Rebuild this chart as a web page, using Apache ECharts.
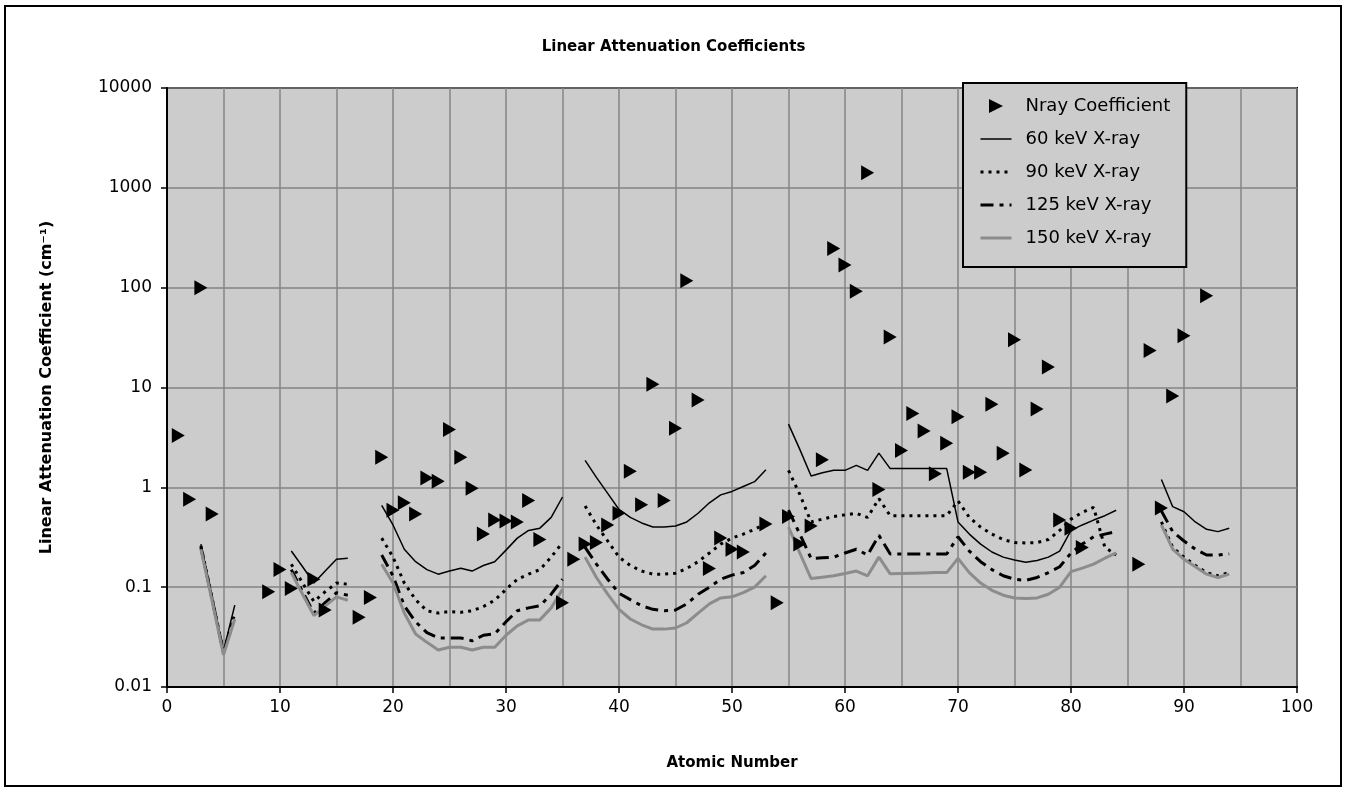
<!DOCTYPE html>
<html>
<head>
<meta charset="utf-8">
<script src="https://cdn.jsdelivr.net/npm/echarts@6/dist/echarts.min.js"></script>
<style>html,body{margin:0;padding:0;background:#fff;}#c{width:1347px;height:791px;}</style>
</head>
<body>
<div id="c"></div>
<script>
// ---- data ----
const yTickLabels = ['0.01', '0.1', '1', '10', '100', '1000', '10000'];
const xTickLabels = ['0', '10', '20', '30', '40', '50', '60', '70', '80', '90', '100'];

const nrayZ = [1,2,3,4,9,10,11,13,14,17,18,19,20,21,22,23,24,25,26,27,28,29,30,31,32,33,35,36,37,38,39,40,41,42,43,44,45,46,47,48,49,50,51,53,54,55,56,57,58,59,60,61,62,63,64,65,66,67,68,69,70,71,72,73,74,75,76,77,78,79,80,81,86,87,88,89,90,92];
const nrayVal = [3.3,0.76,100,0.54,0.09,0.15,0.097,0.12,0.059,0.05,0.079,2.0,0.59,0.70,0.54,1.24,1.15,3.8,2.0,0.98,0.34,0.47,0.46,0.45,0.74,0.30,0.07,0.19,0.27,0.28,0.42,0.55,1.45,0.67,10.8,0.74,3.9,117,7.5,0.154,0.31,0.24,0.225,0.43,0.07,0.51,0.27,0.41,1.89,247,169,92,1420,0.95,32,2.34,5.5,3.66,1.37,2.77,5.1,1.42,1.42,6.8,2.2,30,1.49,6.1,16,0.47,0.39,0.25,0.17,23.5,0.62,8.2,33,83];

// atomic numbers for the X-ray curves; null values break the curve
const lineZ = [3,4,5,6,7, 11,12,13,14,15,16,17,
  19,20,21,22,23,24,25,26,27,28,29,30,31,32,33,34,35,36,
  37,38,39,40,41,42,43,44,45,46,47,48,49,50,51,52,53,54,
  55,56,57,58,59,60,61,62,63,64,65,66,67,68,69,70,71,72,73,74,75,76,77,78,79,80,81,82,83,84,85,
  88,89,90,91,92,93,94];

const kev60 = [0.27,0.08,0.023,0.066,null,
  0.23,0.16,0.11,0.145,0.19,0.195,null,
  0.66,0.42,0.24,0.18,0.15,0.135,0.145,0.155,0.145,0.165,0.18,0.235,0.31,0.37,0.39,0.5,0.8,null,
  1.86,1.26,0.87,0.6,0.5,0.44,0.4,0.4,0.41,0.45,0.55,0.7,0.84,0.91,1.02,1.14,1.5,null,
  4.3,2.4,1.3,1.4,1.48,1.48,1.66,1.48,2.2,1.54,1.54,1.54,1.54,1.54,1.54,0.45,0.34,0.27,0.225,0.2,0.187,0.178,0.185,0.2,0.23,0.37,0.42,0.47,0.52,0.59,null,
  1.2,0.64,0.57,0.45,0.38,0.36,0.39];
const kev90 = [0.26,0.077,0.022,0.055,null,
  0.17,0.11,0.072,0.09,0.11,0.107,null,
  0.31,0.2,0.11,0.075,0.058,0.055,0.057,0.056,0.058,0.064,0.074,0.095,0.12,0.135,0.15,0.2,0.28,null,
  0.65,0.42,0.29,0.2,0.165,0.145,0.135,0.135,0.138,0.154,0.18,0.22,0.27,0.31,0.34,0.38,0.43,null,
  1.48,0.85,0.45,0.48,0.51,0.53,0.55,0.5,0.77,0.52,0.52,0.52,0.52,0.52,0.52,0.73,0.5,0.4,0.34,0.3,0.28,0.277,0.28,0.3,0.37,0.48,0.56,0.63,0.25,0.21,null,
  0.45,0.25,0.2,0.165,0.14,0.13,0.14];
const kev125 = [0.25,0.075,0.022,0.05,null,
  0.15,0.09,0.055,0.07,0.088,0.083,null,
  0.21,0.13,0.065,0.045,0.035,0.031,0.031,0.031,0.029,0.033,0.034,0.045,0.058,0.062,0.065,0.085,0.12,null,
  0.25,0.17,0.12,0.087,0.075,0.065,0.06,0.058,0.059,0.068,0.085,0.1,0.12,0.132,0.14,0.165,0.22,null,
  0.59,0.34,0.194,0.197,0.2,0.22,0.24,0.21,0.33,0.215,0.215,0.215,0.215,0.215,0.215,0.32,0.23,0.18,0.15,0.13,0.12,0.117,0.125,0.14,0.16,0.22,0.27,0.32,0.34,0.36,null,
  0.58,0.36,0.29,0.24,0.21,0.21,0.215];
const kev150 = [0.24,0.072,0.021,0.048,null,
  0.14,0.085,0.052,0.065,0.08,0.074,null,
  0.17,0.11,0.055,0.034,0.028,0.0235,0.025,0.025,0.0235,0.025,0.025,0.033,0.041,0.047,0.047,0.062,0.095,null,
  0.2,0.125,0.085,0.06,0.048,0.042,0.038,0.038,0.039,0.044,0.055,0.068,0.078,0.08,0.088,0.1,0.13,null,
  0.4,0.22,0.122,0.126,0.13,0.137,0.145,0.13,0.2,0.136,0.137,0.138,0.139,0.14,0.14,0.194,0.14,0.11,0.093,0.083,0.078,0.077,0.078,0.085,0.1,0.143,0.155,0.17,0.195,0.22,null,
  0.42,0.24,0.19,0.16,0.135,0.125,0.135];

const seriesNames = ['Nray Coefficient', '60 keV X-ray', '90 keV X-ray', '125 keV X-ray', '150 keV X-ray'];

// ---- chart ----
const FONT = 'DejaVu Sans';
const toPairs = vals => lineZ.map((z, i) => [z, vals[i] == null ? '-' : vals[i]]);
const gridLine = { color: '#858585', width: 1.5 };
const lineStyles = [
  null,
  { color: '#000', width: 1.5, type: 'solid' },
  { color: '#000', width: 3, type: [3, 5] },
  { color: '#000', width: 3, type: [13, 6, 4, 6] },
  { color: '#8c8c8c', width: 3, type: 'solid' }
];

function lineSeries(i, vals) {
  const style = lineStyles[i];
  return { name: seriesNames[i], type: 'line', data: toPairs(vals), symbol: 'none', connectNulls: false,
    lineStyle: style, itemStyle: { color: style.color }, z: 2, silent: true };
}

const chart = echarts.init(document.getElementById('c'), null, { renderer: 'canvas' });
chart.setOption({
  animation: false,
  backgroundColor: '#ffffff',
  textStyle: { fontFamily: FONT },
  title: { text: 'Linear Attenuation Coefficients', left: 'center', top: 35,
    textStyle: { fontFamily: FONT, fontSize: 15, fontWeight: 'bold', color: '#000' } },
  graphic: [{ type: 'rect', shape: { x: 5, y: 6, width: 1336, height: 780 },
    style: { fill: 'none', stroke: '#000', lineWidth: 2 }, z: 100 }],
  grid: { left: 167, top: 88, right: 50, bottom: 104, show: true, backgroundColor: '#cccccc',
    borderColor: '#000', borderWidth: 2 },
  legend: {
    orient: 'vertical', left: 963, top: 83, padding: [13, 16, 19, 16],
    backgroundColor: '#cccccc', borderColor: '#000', borderWidth: 2, borderRadius: 0,
    itemWidth: 31, itemHeight: 14, itemGap: 13,
    textStyle: { fontFamily: FONT, fontSize: 18, color: '#000', lineHeight: 20, padding: [0, 0, 0, 9] },
    data: seriesNames.map((n, i) => i === 0
      ? { name: n, itemStyle: { opacity: 1 } }
      : { name: n, itemStyle: { opacity: 0 },
          lineStyle: { color: lineStyles[i].color, width: lineStyles[i].width, type: lineStyles[i].type } })
  },
  xAxis: {
    type: 'value', min: 0, max: 100, interval: 10,
    name: 'Atomic Number', nameLocation: 'middle', nameGap: 69,
    nameTextStyle: { fontFamily: FONT, fontSize: 15, fontWeight: 'bold', color: '#000' },
    axisLine: { show: true, onZero: false, lineStyle: { color: '#000', width: 2 } },
    axisTick: { show: true, length: 6, lineStyle: { color: '#000', width: 1.5 } },
    axisLabel: { fontFamily: FONT, fontSize: 17, color: '#000', margin: 12,
      formatter: v => xTickLabels[Math.round(v / 10)] },
    splitLine: { show: true, lineStyle: gridLine },
    minorTick: { show: false, splitNumber: 2 },
    minorSplitLine: { show: true, lineStyle: gridLine }
  },
  yAxis: {
    type: 'log', logBase: 10, min: 0.01, max: 10000,
    name: 'Linear Attenuation Coefficient (cm\u207B\u00B9)', nameLocation: 'middle', nameGap: 112,
    nameTextStyle: { fontFamily: FONT, fontSize: 16, fontWeight: 'bold', color: '#000' },
    axisLine: { show: true, lineStyle: { color: '#000', width: 2 } },
    axisTick: { show: true, length: 6, lineStyle: { color: '#000', width: 1.5 } },
    axisLabel: { fontFamily: FONT, fontSize: 17, color: '#000', margin: 15,
      formatter: v => yTickLabels[Math.round(Math.log10(v)) + 2] },
    splitLine: { show: true, lineStyle: gridLine }
  },
  series: [
    { name: seriesNames[0], type: 'scatter', data: nrayZ.map((z, i) => [z, nrayVal[i]]),
      symbol: 'path://M0,0L1,0.5L0,1Z', symbolSize: [13, 15], symbolKeepAspect: false,
      itemStyle: { color: '#000', opacity: 1 }, z: 5, silent: true },
    lineSeries(1, kev60),
    lineSeries(2, kev90),
    lineSeries(3, kev125),
    lineSeries(4, kev150)
  ]
});
</script>
</body>
</html>
